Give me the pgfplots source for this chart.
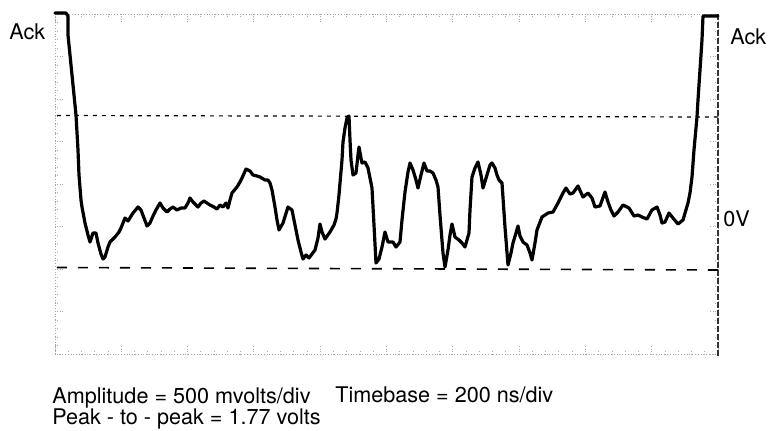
\documentclass[border=0pt]{standalone}
\usepackage{fontspec}
\setmainfont{TeX Gyre Heros}
\usepackage{pgfplots}
\pgfplotsset{compat=1.18}

% 1 px of the scope picture = 0.5pt
\newcommand{\lbl}{\fontsize{10.8}{12}\selectfont}

\begin{document}
\begin{tikzpicture}
\begin{axis}[
    width=331.5pt, height=170pt, scale only axis,
    xmin=55, xmax=718, ymin=14, ymax=354, y dir=reverse,
    xtick={55,121.3,187.6,253.9,320.2,386.5,452.8,519.1,585.4,651.7,718},
    ytick={14,56.5,99,141.5,184,226.5,269,311.5,354},
    minor x tick num=4, minor y tick num=4,
    xticklabels={}, yticklabels={},
    tick align=inside,
    major tick length=4.5pt, minor tick length=2.2pt,
    tick style={gray!70, densely dotted, line width=0.4pt},
    axis line style={gray!70, densely dotted, line width=0.4pt},
    clip=false,
]
% whole page, in pixels of the reference
\path (axis cs:0,0) rectangle (axis cs:768,430);

% right edge of graticule
\draw[black!80, dash pattern=on 3pt off 1pt, line width=0.6pt]
    (axis cs:718,14) -- (axis cs:718,356);

% peak markers
\addplot[black, line width=0.6pt, dash pattern=on 2pt off 2.5pt]
    coordinates {(57,115.5) (718,117)};
\addplot[black, line width=0.8pt, dash pattern=on 5pt off 5.5pt]
    coordinates {(57,267.5) (718,270)};

% trace
\addplot[black, line width=1.6pt, line join=round, line cap=round] coordinates {
(55,13) (66,13) (68,16) (68,35) (71,65) (74,95) (76,115) (78,150) (79,175)
(81,200) (82,207) (85,223) (88,235) (90,242) (93,233) (96,233) (98,243)
(101,254) (103,259) (105,257) (108,247) (110,242) (115,237) (119,232)
(121,228) (125,218) (128,221) (133,213) (138,207) (141,210) (144,218)
(147,226) (150,223) (153,216) (156,210) (160,203) (163,208) (167,212)
(170,209) (173,207) (177,210) (181,208) (185,208) (188,203) (190,198)
(193,202) (198,207) (201,203) (204,201) (207,203) (210,205) (214,207)
(217,209) (220,205) (223,207) (226,203) (228,208) (230,200) (232,193)
(237,187) (240,182) (242,178) (246,169) (250,171) (253,175) (257,176)
(260,177) (265,180) (268,180) (270,183) (272,190) (275,207) (277,220)
(279,230) (283,223) (288,207) (292,210) (294,220) (296,230) (298,240)
(301,252) (303,259) (306,255) (309,258) (312,254) (315,250) (318,238)
(320,224) (322,232) (325,239) (330,232) (334,225) (336,219) (337,213)
(339,195) (340,183) (342,160) (343,142) (345,128) (347,118) (349,116)
(350,140) (351,160) (353,175) (356,173) (358,155) (359,147) (361,158)
(362,163) (365,162) (368,168) (370,178) (372,188) (374,225) (376,263)
(379,259) (382,247) (385,232) (388,242) (393,242) (396,247) (400,242)
(402,220) (405,192) (408,172) (410,163) (413,170) (416,180) (418,188)
(421,175) (424,163) (427,171) (430,171) (433,173) (436,180) (438,187)
(440,215) (443,253) (445,267) (448,250) (450,235) (452,224) (455,237)
(459,240) (462,243) (465,247) (469,233) (470,210) (472,177) (475,168)
(478,162) (481,175) (483,188) (487,175) (490,165) (492,163) (495,168)
(497,175) (499,180) (502,183) (505,227) (508,265) (511,253) (513,243)
(516,233) (518,226) (520,236) (523,242) (527,245) (530,253) (532,260)
(535,243) (537,230) (542,217) (548,213) (553,212) (558,203) (563,193)
(566,188) (570,194) (573,193) (578,186) (583,197) (588,193) (592,198)
(595,207) (600,206) (605,192) (608,202) (611,210) (614,216) (618,212)
(623,205) (629,208) (634,216) (638,215) (642,217) (647,219) (652,210)
(657,207) (660,215) (662,223) (665,222) (669,213) (673,218) (678,224)
(683,220) (688,203) (690,193) (692,177) (694,150) (697,117) (698,100)
(700,70) (702,40) (703,16) (706,16) (718,16)
};

% labels
\node[anchor=base west, inner sep=0pt] at (axis cs:9,39) {\lbl Ack};
\node[anchor=base west, inner sep=0pt] at (axis cs:730,44) {\lbl Ack};
\node[anchor=base west, inner sep=0pt] at (axis cs:723,226) {\lbl 0V};
\node[anchor=base west, inner sep=0pt] at (axis cs:52,403) {\lbl Amplitude = 500 mvolts/div};
\node[anchor=base west, inner sep=0pt] at (axis cs:335,402) {\lbl Timebase = 200 ns/div};
\node[anchor=base west, inner sep=0pt] at (axis cs:52,424) {\lbl Peak - to - peak = 1.77 volts};
\end{axis}
\end{tikzpicture}
\end{document}
